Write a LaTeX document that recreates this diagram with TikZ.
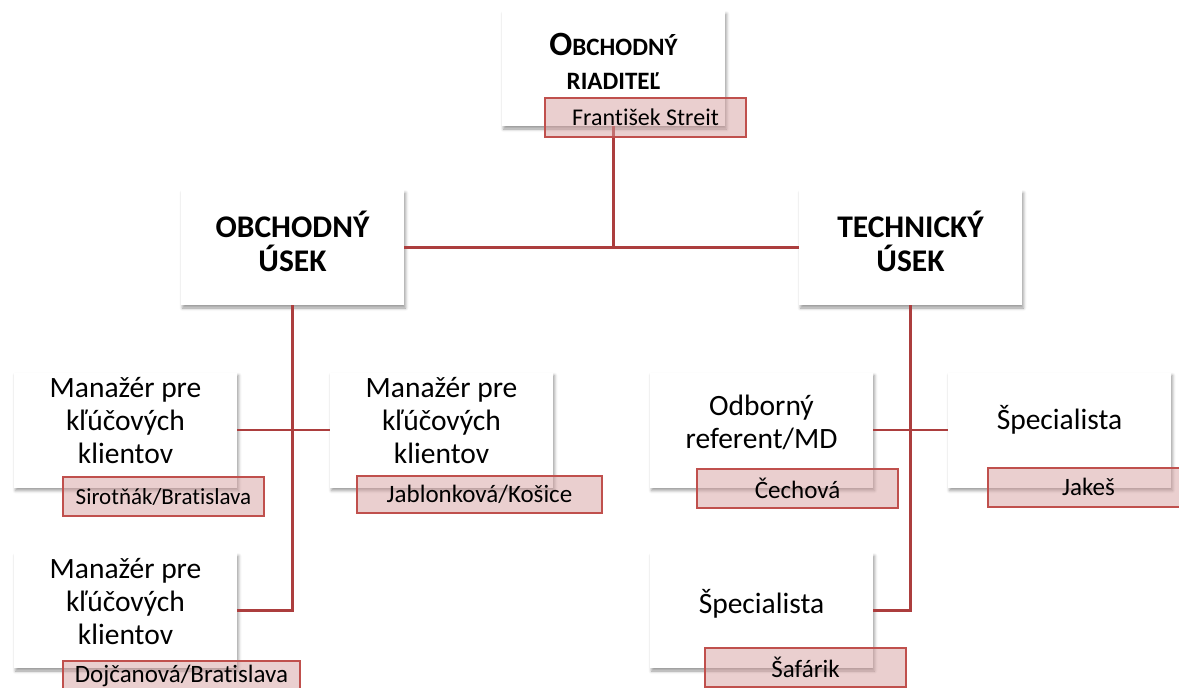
\documentclass[tikz,border=0pt]{standalone}
\usepackage{fontspec}
\setmainfont{Carlito}[Ligatures=NoCommon]
\usetikzlibrary{shadows.blur}
\definecolor{linkred}{RGB}{172,62,62}
\definecolor{tagline}{RGB}{192,80,77}
\definecolor{tagfill}{RGB}{214,160,160}

\begin{document}
\begin{tikzpicture}[x=1pt,y=-1pt,
	unit/.style={rectangle, fill=white, minimum width=223pt, minimum height=115pt, inner sep=0pt,
		blur shadow={shadow xshift=1.5pt, shadow yshift=-3pt, shadow blur radius=3pt, shadow opacity=40}},
	tag/.style={rectangle, draw=tagline, line width=2pt, fill=tagfill, fill opacity=0.5, text opacity=1,
		minimum width=201pt, minimum height=39pt, inner sep=0pt, font=\fontsize{25}{28}\selectfont},
	head/.style={align=center, font=\bfseries\fontsize{31.5}{34}\selectfont},
	job/.style={align=center, font=\fontsize{29.5}{33}\selectfont},
	link/.style={draw=linkred, line width=2.2pt}]

	\useasboundingbox (0,0) rectangle (1179,688);

	% boxes
	\node (riad) [unit] at (613.5,68.5) {};
	\node (obch) [unit] at (292.5,247.5) {};
	\node (tech) [unit] at (910.5,247.5) {};
	\node (man1) [unit] at (125.5,430) {};
	\node (man2) [unit] at (441.5,430) {};
	\node (man3) [unit] at (125.5,610.5) {};
	\node (odb) [unit] at (761.5,430) {};
	\node (spec1) [unit] at (1059.5,430) {};
	\node (spec2) [unit] at (761.5,610.5) {};

	\node (riadtext) [head] at ([yshift=7pt]riad.center)
		{{\fontsize{34}{34}\selectfont O}{\fontsize{25}{34}\selectfont BCHODNÝ}\\{\fontsize{25}{34}\selectfont RIADITEĽ}};
	\node (obchtext) [head] at ([yshift=6pt]obch.center) {OBCHODNÝ\\ÚSEK};
	\node (techtext) [head] at ([yshift=6pt]tech.center) {TECHNICKÝ\\ÚSEK};
	\node (man1text) [job] at ([yshift=9pt]man1.center) {Manažér pre\\kľúčových\\klientov};
	\node (man2text) [job] at ([yshift=9pt]man2.center) {Manažér pre\\kľúčových\\klientov};
	\node (man3text) [job] at ([yshift=9pt]man3.center) {Manažér pre\\kľúčových\\klientov};
	\node (odbtext) [job] at ([yshift=8pt]odb.center) {Odborný\\referent/MD};
	\node (spec1text) [job] at ([yshift=10pt]spec1.center) {Špecialista};
	\node (spec2text) [job] at ([yshift=7pt]spec2.center) {Špecialista};

	% lines
	\draw[link] (riad.south) -- (riad.south |- obch.east);
	\draw[link] (obch.east) -- (tech.west);
	\draw[link] (obch.south) |- (man3.east);
	\draw[link] (man1.east) -- (man2.west);
	\draw[link] (tech.south) |- (spec2.east);
	\draw[link] (odb.east) -- (spec1.west);

	% names
	\node (streit) [tag, font=\fontsize{24}{28}\selectfont] at (645.5,117.5) {František Streit};
	\node (sirot) [tag, font=\fontsize{23}{28}\selectfont] at (163.5,496.5) {Sirotňák/Bratislava};
	\node (jablon) [tag, minimum width=245pt, minimum height=37pt] at (479.5,494) {Jablonková/Košice};
	\node (dojc) [tag, minimum width=237pt, minimum height=30pt] at (181.5,676) {Dojčanová/Bratislava};
	\node (cech) [tag] at (797.5,488) {Čechová};
	\node (jakes) [tag] at (1088.5,487) {Jakeš};
	\node (safar) [tag] at (805.5,667.5) {Šafárik};

\end{tikzpicture}
\end{document}
